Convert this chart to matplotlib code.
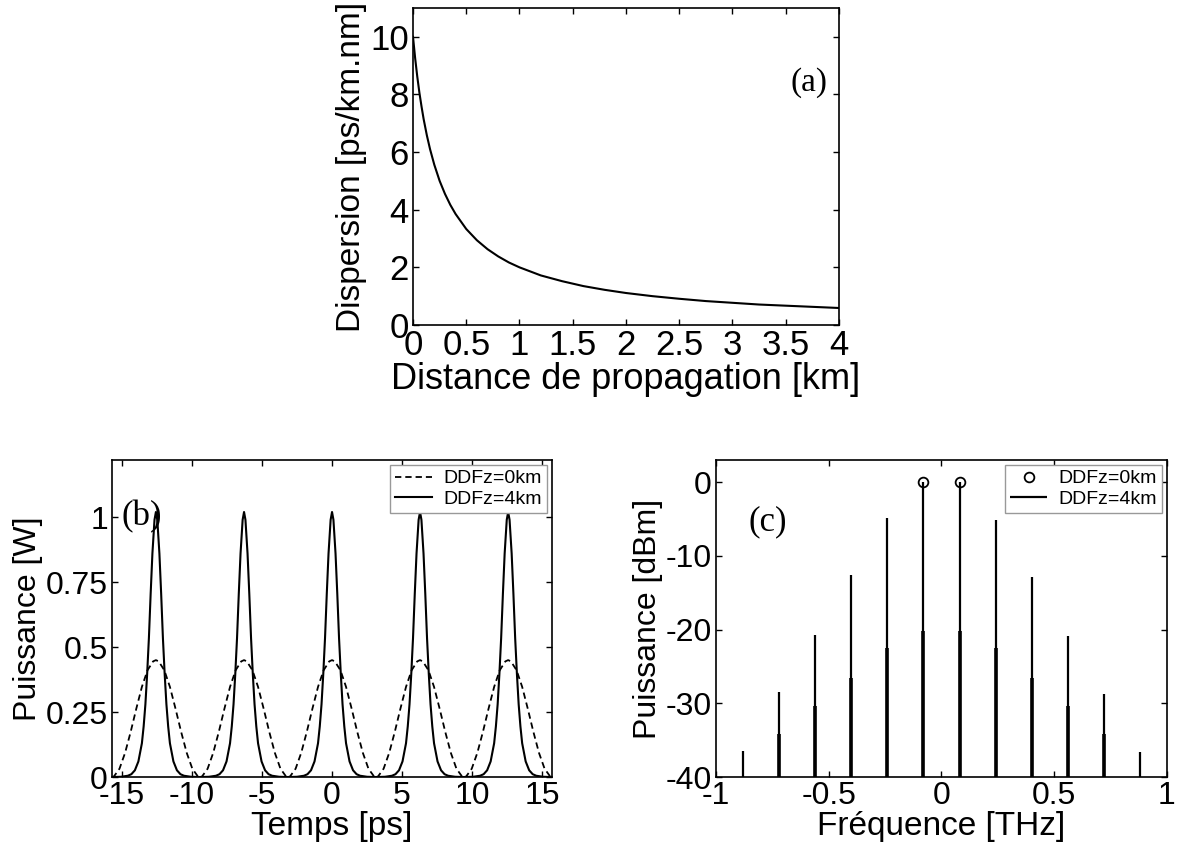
import matplotlib
matplotlib.use("Agg")
import matplotlib.pyplot as plt
from matplotlib.ticker import FormatStrFormatter
import numpy as np


plt.rcParams["font.family"] = ["Liberation Sans", "DejaVu Sans"]
plt.rcParams["axes.unicode_minus"] = False


# (a) dispersion along the fibre
distance_km = [0, 0.02, 0.04, 0.06, 0.08, 0.1, 0.13, 0.16, 0.2, 0.25, 0.3, 0.35,
               0.4, 0.5, 0.6, 0.7, 0.8, 0.9, 1.0, 1.2, 1.4, 1.6, 1.8, 2.0,
               2.25, 2.5, 2.75, 3.0, 3.25, 3.5, 3.75, 4.0]
dispersion = [10.0, 9.26, 8.62, 8.06, 7.58, 7.14, 6.58, 6.10, 5.56, 5.00, 4.55, 4.17,
              3.85, 3.33, 2.94, 2.63, 2.38, 2.17, 2.00, 1.72, 1.52, 1.35, 1.22, 1.11,
              1.00, 0.91, 0.83, 0.77, 0.71, 0.67, 0.63, 0.59]

# (b) one period of each pulse train (offset from the pulse centre, in ps)
pulse_centres = [-12.57, -6.28, 0.0, 6.28, 12.57]
offset_0km = [-3.14, -3.0, -2.6, -2.2, -1.8, -1.4, -1.0, -0.6, -0.2, 0.0,
              0.2, 0.6, 1.0, 1.4, 1.8, 2.2, 2.6, 3.0, 3.14]
power_0km = [0.0, 0.002, 0.032, 0.093, 0.174, 0.263, 0.347, 0.411, 0.445, 0.45,
             0.445, 0.411, 0.347, 0.263, 0.174, 0.093, 0.032, 0.002, 0.0]
offset_4km = [-3.14, -2.5, -2.0, -1.75, -1.5, -1.25, -1.0, -0.875, -0.75, -0.625,
              -0.5, -0.375, -0.25, -0.1, 0.0,
              0.1, 0.25, 0.375, 0.5, 0.625, 0.75, 0.875, 1.0, 1.25, 1.5, 1.75,
              2.0, 2.5, 3.14]
power_4km = [0.0, 0.001, 0.005, 0.011, 0.026, 0.06, 0.13, 0.195, 0.28, 0.397,
             0.535, 0.705, 0.86, 0.99, 1.02,
             0.99, 0.86, 0.705, 0.535, 0.397, 0.28, 0.195, 0.13, 0.06, 0.026, 0.011,
             0.005, 0.001, 0.0]

# (c) spectrum lines
freq_0km = [-0.08, 0.08]
level_0km = [0.0, 0.0]
freq_4km = [-0.88, -0.72, -0.56, -0.40, -0.24, -0.08, 0.08, 0.24, 0.40, 0.56, 0.72, 0.88]
level_4km = [-36.5, -28.4, -20.7, -12.6, -4.9, 0.0, 0.0, -5.1, -12.9, -20.9, -28.7, -36.6]
base_4km = [-40, -34.2, -30.3, -26.5, -22.5, -20.2, -20.2, -22.5, -26.5, -30.3, -34.2, -40]


fig = plt.figure(figsize=(11.77, 8.47), dpi=100)

ax_a = fig.add_axes([0.3509, 0.6163, 0.3619, 0.3743])
ax_b = fig.add_axes([0.0952, 0.0826, 0.3738, 0.3743])
ax_c = fig.add_axes([0.6083, 0.0826, 0.3832, 0.3743])

for ax, tsize in ((ax_a, 25), (ax_b, 23), (ax_c, 23)):
    ax.tick_params(direction="in", top=True, right=True, length=4.5, width=1,
                   labelsize=tsize, pad=3)
    for sp in ax.spines.values():
        sp.set_linewidth(1.2)
    ax.xaxis.set_major_formatter(FormatStrFormatter("%g"))
    ax.yaxis.set_major_formatter(FormatStrFormatter("%g"))


# (a)
ax_a.plot(distance_km, dispersion, color="black", lw=1.5)
ax_a.set_xlim(0, 4)
ax_a.set_ylim(0, 11)
ax_a.set_xticks(np.arange(0, 4.01, 0.5))
ax_a.set_yticks(np.arange(0, 10.1, 2))
ax_a.set_xlabel("Distance de propagation [km]", fontsize=26, labelpad=0)
ax_a.set_ylabel("Dispersion [ps/km.nm]", fontsize=24, labelpad=2)
ax_a.text(3.72, 8.4, "(a)", fontsize=24, family="Liberation Serif",
          ha="center", va="center")


# (b)
for i, c in enumerate(pulse_centres):
    ax_b.plot(np.array(offset_0km) + c, power_0km, color="black", lw=1.3,
              dashes=(3.5, 2.2), label="DDFz=0km" if i == 0 else None)
for i, c in enumerate(pulse_centres):
    ax_b.plot(np.array(offset_4km) + c, power_4km, color="black", lw=1.5,
              label="DDFz=4km" if i == 0 else None)
ax_b.set_xlim(-15.7, 15.7)
ax_b.set_ylim(0, 1.22)
ax_b.set_xticks(np.arange(-15, 16, 5))
ax_b.set_yticks([0, 0.25, 0.5, 0.75, 1])
ax_b.set_xlabel("Temps [ps]", fontsize=24, labelpad=0)
ax_b.set_ylabel("Puissance [W]", fontsize=23, labelpad=2)
ax_b.text(-13.6, 1.0, "(b)", fontsize=25, family="Liberation Serif",
          ha="center", va="center")
ax_b.legend(loc="upper right", fontsize=14, fancybox=False, edgecolor="0.6",
            framealpha=1, borderaxespad=0.25, handlelength=1.9,
            handletextpad=0.6, borderpad=0.25, labelspacing=0.15)


# (c)
ax_c.plot(freq_0km, level_0km, "o", color="black", mfc="none", ms=7, mew=1.3,
          label="DDFz=0km")
ax_c.vlines(freq_4km, -40, level_4km, color="black", lw=1.6, label="DDFz=4km")
ax_c.vlines(freq_4km, -40, base_4km, color="black", lw=2.6)
ax_c.set_xlim(-1, 1)
ax_c.set_ylim(-40, 3)
ax_c.set_xticks([-1, -0.5, 0, 0.5, 1])
ax_c.set_yticks([-40, -30, -20, -10, 0])
ax_c.set_xlabel("Fréquence [THz]", fontsize=24, labelpad=0)
ax_c.set_ylabel("Puissance [dBm]", fontsize=23, labelpad=2)
ax_c.text(-0.77, -5.4, "(c)", fontsize=25, family="Liberation Serif",
          ha="center", va="center")
ax_c.legend(loc="upper right", fontsize=14, fancybox=False, edgecolor="0.6",
            framealpha=1, borderaxespad=0.25, handlelength=1.9,
            handletextpad=0.6, borderpad=0.25, labelspacing=0.15)


fig.savefig("out.png", dpi=100)
plt.close(fig)
